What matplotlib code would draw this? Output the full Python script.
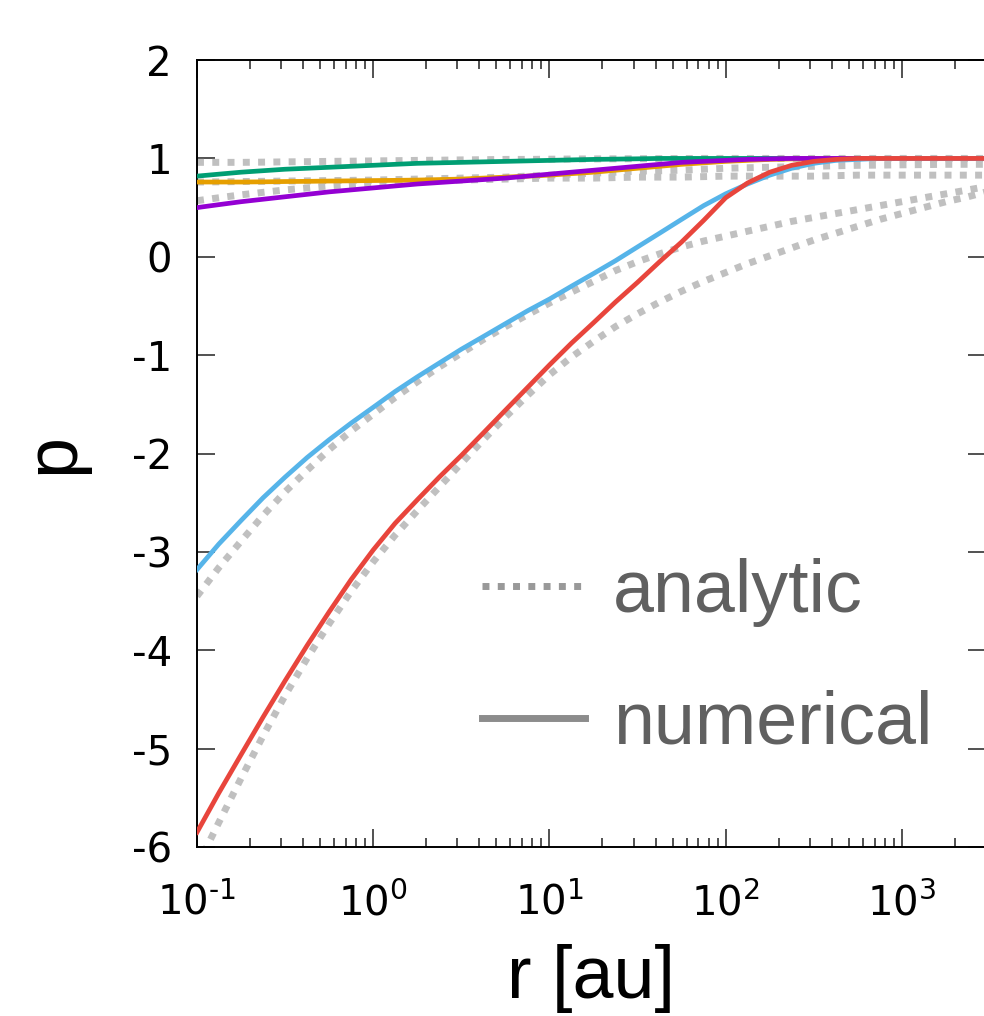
import numpy as np
import matplotlib.pyplot as plt
from matplotlib.lines import Line2D

plt.rcParams['axes.unicode_minus'] = False

# radius grid [au] (eighth-decade steps)
r = [0.1, 0.133, 0.178, 0.237, 0.316, 0.422, 0.562, 0.75, 1.0, 1.33,
     1.78, 2.37, 3.16, 4.22, 5.62, 7.5, 10.0, 13.3, 17.8, 23.7,
     31.6, 42.2, 56.2, 75.0, 100.0, 133.0, 178.0, 237.0, 316.0, 422.0,
     562.0, 750.0, 1000.0, 1330.0, 1780.0, 2370.0, 3160.0]

# numerical solutions
p_green = [0.82, 0.84, 0.86, 0.875, 0.89, 0.9, 0.91, 0.92, 0.93, 0.94,
           0.95, 0.955, 0.96, 0.965, 0.97, 0.975, 0.98, 0.985, 0.99, 0.993,
           0.996, 1.0, 1.0, 1.0, 1.0, 1.0, 1.0, 1.0, 1.0, 1.0,
           1.0, 1.0, 1.0, 1.0, 1.0, 1.0, 1.0]
p_orange = [0.76, 0.76, 0.76, 0.762, 0.765, 0.767, 0.77, 0.772, 0.775, 0.777,
            0.78, 0.785, 0.79, 0.8, 0.81, 0.82, 0.83, 0.845, 0.86, 0.88,
            0.9, 0.92, 0.94, 0.955, 0.97, 0.98, 0.99, 0.995, 1.0, 1.0,
            1.0, 1.0, 1.0, 1.0, 1.0, 1.0, 1.0]
p_purple = [0.5, 0.53, 0.56, 0.585, 0.61, 0.635, 0.66, 0.68, 0.7, 0.72,
            0.74, 0.755, 0.77, 0.785, 0.8, 0.82, 0.84, 0.86, 0.88, 0.9,
            0.92, 0.94, 0.96, 0.97, 0.98, 0.99, 0.995, 1.0, 1.0, 1.0,
            1.0, 1.0, 1.0, 1.0, 1.0, 1.0, 1.0]
p_blue = [-3.18, -2.92, -2.68, -2.45, -2.24, -2.04, -1.86, -1.69, -1.53, -1.37,
          -1.22, -1.08, -0.94, -0.81, -0.68, -0.55, -0.43, -0.3, -0.17, -0.04,
          0.1, 0.24, 0.38, 0.52, 0.64, 0.74, 0.83, 0.9, 0.95, 0.98,
          0.99, 1.0, 1.0, 1.0, 1.0, 1.0, 1.0]
p_red = [-5.85, -5.45, -5.06, -4.68, -4.31, -3.95, -3.61, -3.28, -2.98, -2.71,
         -2.47, -2.24, -2.02, -1.79, -1.56, -1.33, -1.1, -0.88, -0.67, -0.46,
         -0.26, -0.05, 0.15, 0.37, 0.6, 0.75, 0.86, 0.93, 0.97, 0.99,
         1.0, 1.0, 1.0, 1.0, 1.0, 1.0, 1.0]

# analytic solutions
a_green = [0.96, 0.96, 0.96, 0.962, 0.965, 0.967, 0.97, 0.972, 0.975, 0.977,
           0.98, 0.982, 0.985, 0.987, 0.99, 0.99, 0.992, 0.994, 0.995, 0.996,
           0.997, 0.998, 0.999, 1.0, 1.0, 1.0, 1.0, 1.0, 1.0, 1.0,
           1.0, 1.0, 1.0, 1.0, 1.0, 1.0, 1.0]
a_orange = [0.76, 0.762, 0.765, 0.767, 0.77, 0.772, 0.775, 0.777, 0.78, 0.785,
            0.79, 0.795, 0.8, 0.805, 0.81, 0.82, 0.83, 0.84, 0.85, 0.86,
            0.87, 0.875, 0.88, 0.89, 0.9, 0.905, 0.91, 0.915, 0.92, 0.925,
            0.93, 0.932, 0.935, 0.937, 0.94, 0.94, 0.94]
a_purple = [0.57, 0.6, 0.63, 0.655, 0.68, 0.7, 0.72, 0.735, 0.75, 0.76,
            0.77, 0.775, 0.78, 0.785, 0.79, 0.795, 0.8, 0.8, 0.8, 0.805,
            0.81, 0.81, 0.81, 0.815, 0.82, 0.82, 0.82, 0.82, 0.82, 0.825,
            0.83, 0.83, 0.83, 0.83, 0.83, 0.83, 0.83]
a_blue = [-3.45, -3.16, -2.89, -2.63, -2.39, -2.17, -1.96, -1.77, -1.6, -1.43,
          -1.27, -1.12, -0.98, -0.84, -0.71, -0.59, -0.47, -0.36, -0.25, -0.14,
          -0.05, 0.03, 0.1, 0.16, 0.21, 0.26, 0.31, 0.36, 0.4, 0.44,
          0.48, 0.52, 0.56, 0.6, 0.64, 0.68, 0.72]
a_red = [-6.2, -5.75, -5.3, -4.87, -4.46, -4.08, -3.73, -3.4, -3.1, -2.83,
         -2.58, -2.34, -2.1, -1.86, -1.63, -1.41, -1.2, -1.02, -0.86, -0.71,
         -0.58, -0.46, -0.35, -0.25, -0.16, -0.07, 0.01, 0.09, 0.17, 0.24,
         0.31, 0.38, 0.44, 0.5, 0.56, 0.61, 0.67]

xticks = [0.1, 1, 10, 100, 1000]
xtick_labels = ['$\\mathdefault{10^{\u20101}}$', '$\\mathdefault{10^{0}}$',
                '$\\mathdefault{10^{1}}$', '$\\mathdefault{10^{2}}$',
                '$\\mathdefault{10^{3}}$']
yticks = [-6, -5, -4, -3, -2, -1, 0, 1, 2]

colors = ['#009e73', '#e69f00', '#9400d3', '#56b4e9', '#e8453c']
numerical = [p_green, p_orange, p_purple, p_blue, p_red]
analytic = [a_green, a_orange, a_purple, a_blue, a_red]

fig = plt.figure(figsize=(9.84, 10.16), dpi=100)
ax = fig.add_axes([0.2002, 0.1663, 0.8018, 0.7746])

for a in analytic:
    ax.plot(r, a, color='#c0c0c0', lw=5, linestyle=(0, (1, 1.2)),
            dash_capstyle='butt', zorder=2)
for c, p in zip(colors, numerical):
    ax.plot(r, p, color=c, lw=3.4, zorder=3)

ax.set_xscale('log')
ax.set_xlim(0.1, 3000)
ax.set_ylim(-6, 2)
ax.set_xticks(xticks)
ax.set_xticklabels(xtick_labels)
ax.set_yticks(yticks)
ax.set_yticklabels([str(v) for v in yticks])

for s in ax.spines.values():
    s.set_linewidth(1.4)
ax.tick_params(which='both', direction='in', top=True, right=True, width=1.1,
               color='#222222')
ax.tick_params(which='major', length=13)
ax.tick_params(which='minor', length=6.5)
ax.tick_params(axis='y', labelsize=29, pad=18)
ax.tick_params(axis='x', labelsize=29, pad=26)

ax.set_xlabel('r [au]', fontsize=53, family='Liberation Sans', labelpad=14)
ax.set_ylabel('p', fontsize=53, family='Liberation Sans', labelpad=31)

handles = [Line2D([], [], color='#999999', lw=5, linestyle=(0, (1, 1.2)),
                  dash_capstyle='butt'),
           Line2D([], [], color='#8c8c8c', lw=5)]
leg = ax.legend(handles, ['analytic', 'numerical'], loc='center left',
                bbox_to_anchor=(0.361, 0.24), frameon=False, handlelength=1.4,
                handletextpad=0.38, labelspacing=0.85, borderpad=0,
                borderaxespad=0, prop={'family': 'Liberation Sans', 'size': 53})
for t in leg.get_texts():
    t.set_color('#606060')

fig.savefig('out.png', dpi=100)
